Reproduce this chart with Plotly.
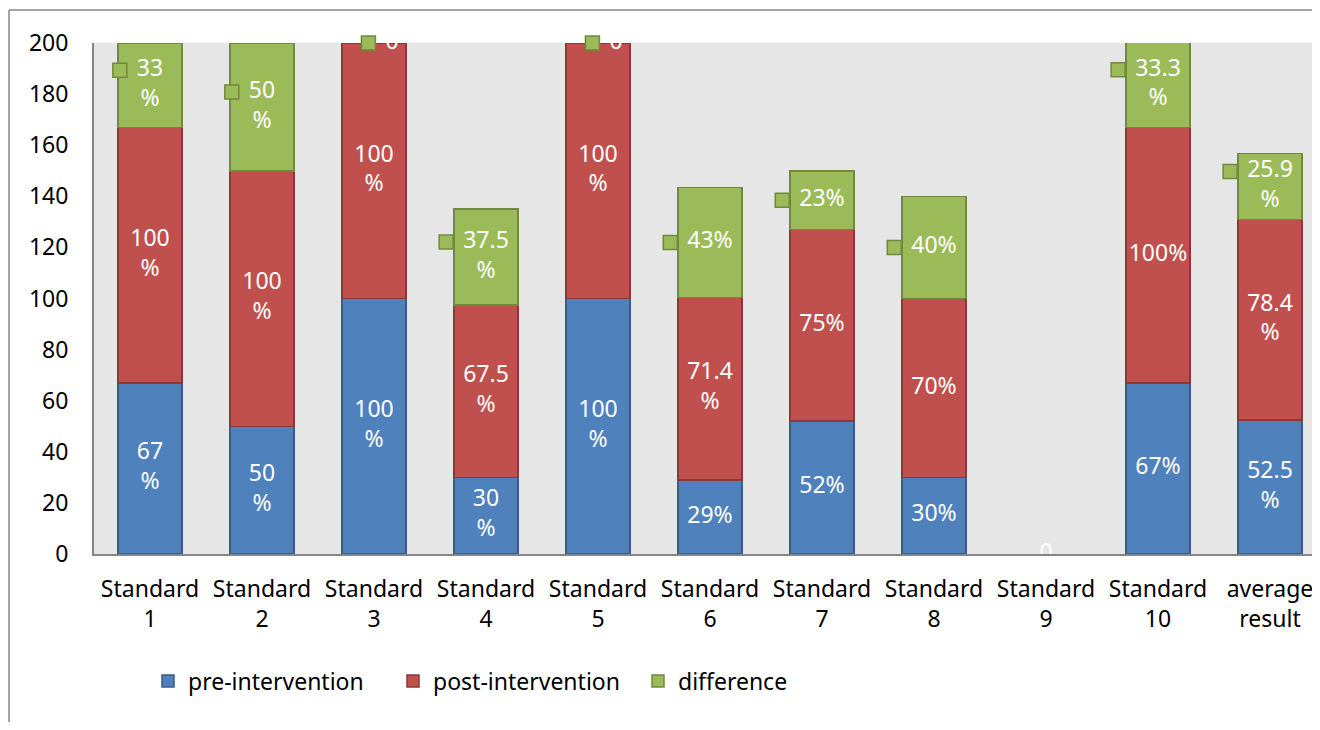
import plotly.graph_objects as go

categories = ["Standard 1", "Standard 2", "Standard 3", "Standard 4", "Standard 5",
              "Standard 6", "Standard 7", "Standard 8", "Standard 9", "Standard 10",
              "average result"]
pre = [67, 50, 100, 30, 100, 29, 52, 30, 0, 67, 52.5]
post = [100, 100, 100, 67.5, 100, 71.4, 75, 70, 0, 100, 78.4]
diff = [33, 50, 0, 37.5, 0, 43, 23, 40, 0, 33.3, 25.9]

pre_labels = ["67<br>%", "50<br>%", "100<br>%", "30<br>%", "100<br>%", "29%", "52%",
              "30%", "0", "67%", "52.5<br>%"]
post_labels = ["100<br>%", "100<br>%", "100<br>%", "67.5<br>%", "100<br>%", "71.4<br>%",
               "75%", "70%", "", "100%", "78.4<br>%"]
diff_labels = ["33<br>%", "50<br>%", "0", "37.5<br>%", "0", "43%", "23%", "40%", "",
               "33.3<br>%", "25.9<br>%"]

FONT = "Noto Sans"
FS = 23
OFF = 8  # page body margin
W, H = 1312, 714
L = 94 - OFF
T = 43 - OFF
B = H - (554 - OFF)
plot_w = W - L
plot_h = H - T - B
cat_px = 112.0
x_end = -0.5 + plot_w / cat_px
ymax = 200.0
px_to_y = ymax / plot_h

blue, blue_e = "#4F81BD", "#385D8A"
red, red_e = "#C0504D", "#8C3836"
green, green_e = "#9BBB59", "#71893F"

xs = list(range(len(categories)))
fig = go.Figure()
for name, vals, col, edge in [("pre-intervention", pre, blue, blue_e),
                              ("post-intervention", post, red, red_e),
                              ("difference", diff, green, green_e)]:
    fig.add_trace(go.Bar(x=xs, y=vals, name=name, width=64 / cat_px,
                         marker=dict(color=col,
                                     line=dict(color=edge,
                                               width=[1.5 if v > 0 else 0 for v in vals])),
                         hoverinfo="skip"))

def mids(base, vals):
    return [b + v / 2 for b, v in zip(base, vals)]

zeros = [0] * len(xs)
base_post = pre
base_diff = [a + b for a, b in zip(pre, post)]
for labels, base, vals in [(pre_labels, zeros, pre), (post_labels, base_post, post)]:
    ys = mids(base, vals)
    fig.add_trace(go.Scatter(x=xs, y=ys, text=labels, mode="text", showlegend=False,
                             textfont=dict(color="white", size=FS, family=FONT),
                             textposition="middle center", cliponaxis=False,
                             hoverinfo="skip"))

charw = {"%": 0.83, ".": 0.27}
def text_w(s):
    first = s.split("<br>")[0]
    return sum(charw.get(c, 0.572) for c in first) * FS

dy = mids(base_diff, diff)
dx, dyl, dt, mx, my = [], [], [], [], []
for i, lab in enumerate(diff_labels):
    if not lab:
        continue
    nlines = lab.count("<br>") + 1
    shift = 18 / cat_px if diff[i] == 0 else 0
    dx.append(xs[i] + shift); dyl.append(dy[i]); dt.append(lab)
    mx.append(xs[i] + shift - (text_w(lab) / 2 + 17) / cat_px)
    my.append(dy[i] + (nlines - 1) * FS * 1.3 / 2 * px_to_y)
fig.add_trace(go.Scatter(x=dx, y=dyl, text=dt, mode="text", showlegend=False,
                         textfont=dict(color="white", size=FS, family=FONT),
                         textposition="middle center", cliponaxis=False,
                         hoverinfo="skip"))
fig.add_trace(go.Scatter(x=mx, y=my, mode="markers", showlegend=False,
                         marker=dict(symbol="square", size=14, color=green,
                                     line=dict(color=green_e, width=1.5)),
                         cliponaxis=False, hoverinfo="skip"))

# chart-area border (top and left edges)
gx = (8 - OFF + 1 - L) / plot_w
gy_top = (H - B - (9 - OFF + 1)) / plot_h
fig.add_shape(type="line", xref="paper", yref="paper", x0=gx, x1=1.05, y0=gy_top, y1=gy_top,
              line=dict(color="#868686", width=1.5))
fig.add_shape(type="line", xref="paper", yref="paper", x0=gx, x1=gx, y0=gy_top, y1=-0.5,
              line=dict(color="#868686", width=1.5))

fig.update_layout(
    width=W, height=H, barmode="stack",
    margin=dict(l=L, r=0, t=T, b=B),
    paper_bgcolor="white", plot_bgcolor="#E6E6E6",
    font=dict(family=FONT, size=FS, color="black"),
    legend=dict(orientation="h", x=(148 - 94) / plot_w, xanchor="left",
                y=(554 - 681) / plot_h, yanchor="middle",
                font=dict(size=FS, color="black"), traceorder="normal",
                entrywidth=200, itemclick=False),
    showlegend=True,
)
fig.update_xaxes(range=[-0.5, x_end], tickmode="array", tickvals=xs,
                 ticktext=[c.replace(" ", "<br>") for c in categories],
                 showgrid=False, zeroline=False, showline=True, linecolor="#868686",
                 linewidth=2, ticks="", ticklabelstandoff=13,
                 tickfont=dict(size=FS, color="black", family=FONT))
fig.update_yaxes(range=[0, ymax], tickmode="linear", tick0=0, dtick=20,
                 showgrid=False, zeroline=False, showline=True, linecolor="#868686",
                 linewidth=2, ticks="", ticklabelstandoff=19,
                 tickfont=dict(size=FS, color="black", family=FONT))

fig.write_html("out.html")
